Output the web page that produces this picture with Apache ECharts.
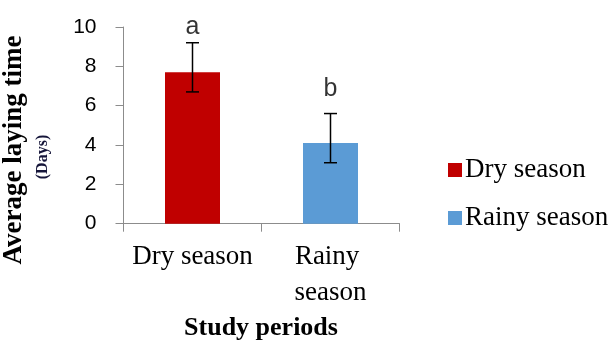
<!DOCTYPE html>
<html>
<head>
<meta charset="utf-8">
<script src="https://cdn.jsdelivr.net/npm/echarts@6/dist/echarts.min.js"></script>
<style>html,body{margin:0;padding:0;background:#fff}#c{width:610px;height:349px}</style>
</head>
<body>
<div id="c"></div>
<script>
var categories = ["Dry season", "Rainy season"];
var seriesNames = ["Dry season", "Rainy season"];
var means = [7.7, 4.1];
var errLow = [6.7, 3.1];
var errHigh = [9.2, 5.6];
var letters = ["a", "b"];
var letterPos = [10.0, 6.85];
var yTicks = [0, 2, 4, 6, 8, 10];
var colors = ["#C00000", "#5B9BD5"];

var chart = echarts.init(document.getElementById('c'), null, {renderer: 'canvas'});
var serif = '"Liberation Serif", "Times New Roman", serif';

var barSeries = seriesNames.map(function (name, i) {
  return {
    name: name,
    type: 'bar',
    barWidth: 55,
    barGap: '-100%',
    itemStyle: {color: colors[i]},
    data: categories.map(function (c, j) { return j === i ? means[j] : '-'; })
  };
});

var option = {
  animation: false,
  grid: {left: 123.5, top: 27, right: 210.5, bottom: 125.3, containLabel: false},
  legend: {
    orient: 'vertical',
    left: 443,
    top: 150,
    icon: 'rect',
    itemWidth: 14,
    itemHeight: 14,
    itemGap: 18,
    textStyle: {fontFamily: serif, fontSize: 27, color: '#000', lineHeight: 30, padding: [0, 0, 0, -2]},
    data: seriesNames
  },
  xAxis: {
    type: 'category',
    data: categories,
    axisLine: {lineStyle: {color: '#8c8c8c', width: 1}},
    axisTick: {show: true, length: 8, lineStyle: {color: '#8c8c8c'}},
    axisLabel: {
      fontFamily: serif, fontSize: 27, color: '#000', lineHeight: 36,
      margin: 15, width: 132, overflow: 'break', interval: 0
    }
  },
  yAxis: {
    type: 'value',
    min: yTicks[0],
    max: yTicks[yTicks.length - 1],
    interval: 2,
    axisLine: {show: true, lineStyle: {color: '#8c8c8c', width: 1}},
    axisTick: {show: true, length: 8, lineStyle: {color: '#8c8c8c'}},
    splitLine: {show: false},
    axisLabel: {fontFamily: '"Liberation Sans", Arial, sans-serif', fontSize: 21, color: '#000', margin: 27}
  },
  graphic: [
    {type: 'text', x: 14, y: 150, rotation: Math.PI / 2,
     style: {text: 'Average laying time', font: 'bold 27px ' + serif, fill: '#000', textAlign: 'center', textVerticalAlign: 'middle'}},
    {type: 'text', x: 43, y: 157, rotation: Math.PI / 2,
     style: {text: '(Days)', font: 'bold 16px ' + serif, fill: '#16163a', textAlign: 'center', textVerticalAlign: 'middle'}},
    {type: 'text', x: 261, y: 328,
     style: {text: 'Study periods', font: 'bold 26px ' + serif, fill: '#000', textAlign: 'center', textVerticalAlign: 'middle'}}
  ],
  series: barSeries.concat([
    {
      type: 'custom',
      name: 'err',
      z: 10,
      renderItem: function (params, api) {
        var x = api.value(0);
        var lo = api.coord([x, api.value(1)]);
        var hi = api.coord([x, api.value(2)]);
        var hw = 6.5;
        var st = {stroke: '#000', lineWidth: 1.5};
        return {
          type: 'group',
          children: [
            {type: 'line', shape: {x1: hi[0], y1: hi[1], x2: lo[0], y2: lo[1]}, style: st},
            {type: 'line', shape: {x1: hi[0] - hw, y1: hi[1], x2: hi[0] + hw, y2: hi[1]}, style: st},
            {type: 'line', shape: {x1: lo[0] - hw, y1: lo[1], x2: lo[0] + hw, y2: lo[1]}, style: st}
          ]
        };
      },
      data: categories.map(function (c, i) { return [i, errLow[i], errHigh[i]]; })
    },
    {
      type: 'scatter',
      name: 'letters',
      symbolSize: 0,
      clip: false,
      z: 11,
      label: {
        show: true, position: 'inside',
        fontFamily: '"Liberation Sans", Arial, sans-serif', fontSize: 25, color: '#000',
        formatter: function (p) { return letters[p.dataIndex]; }
      },
      data: categories.map(function (c, i) { return [i, letterPos[i]]; })
    }
  ])
};
chart.setOption(option);
</script>
</body>
</html>
